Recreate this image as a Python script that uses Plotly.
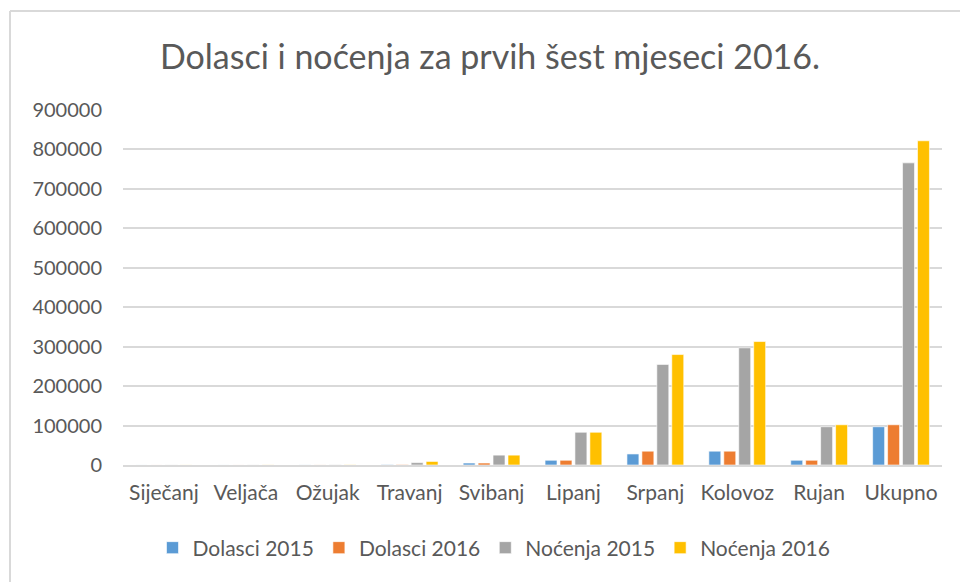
import plotly.graph_objects as go

categories = ["Siječanj", "Veljača", "Ožujak", "Travanj", "Svibanj", "Lipanj",
              "Srpanj", "Kolovoz", "Rujan", "Ukupno"]
dolasci_2015 = [100, 100, 200, 1000, 5000, 12000, 28000, 35000, 12000, 97000]
dolasci_2016 = [100, 100, 200, 1200, 5000, 12000, 35000, 35000, 12000, 102000]
nocenja_2015 = [200, 200, 400, 6000, 25000, 83000, 255000, 297000, 97000, 766000]
nocenja_2016 = [200, 300, 500, 9000, 25000, 83000, 280000, 313000, 102000, 822000]
series_names = ["Dolasci 2015", "Dolasci 2016", "Noćenja 2015", "Noćenja 2016"]
series_colors = ["#5B9BD5", "#ED7D31", "#A5A5A5", "#FFC000"]
y_ticks = [0, 100000, 200000, 300000, 400000, 500000, 600000, 700000, 800000, 900000]

FONT = "Lato"
TXT = "#595959"

fig = go.Figure()
for name, vals, col in zip(series_names,
                           [dolasci_2015, dolasci_2016, nocenja_2015, nocenja_2016],
                           series_colors):
    fig.add_trace(go.Bar(x=categories, y=vals, name=name,
                         marker=dict(color=col, line=dict(color="white", width=0.6))))

W, H = 960, 582
L, R, T, B = 123, 18, 110, 117
pw, ph = W - L - R, H - T - B

def px_x(x):
    return (x - L) / pw

def px_y(y):
    return (H - B - y) / ph

fig.update_layout(
    width=W, height=H,
    margin=dict(l=L, r=R, t=T, b=B),
    paper_bgcolor="white", plot_bgcolor="white",
    barmode="group", bargap=0.27, bargroupgap=0.2,
    font=dict(family=FONT, color=TXT, size=20),
    title=dict(text="Dolasci i noćenja za prvih šest mjeseci 2016.",
               x=490 / W, xanchor="center", y=1 - 57 / H, yanchor="middle",
               yref="container", xref="container",
               font=dict(family=FONT, size=34, color=TXT)),
    xaxis=dict(showgrid=False, showline=True, linecolor="#d9d9d9", linewidth=1.5,
               ticks="", tickfont=dict(size=21, color=TXT), ticklabelstandoff=8),
    yaxis=dict(range=[0, 900000], tickvals=y_ticks, ticktext=[str(v) for v in y_ticks],
               showgrid=True, gridcolor="#d9d9d9", gridwidth=1.5,
               zeroline=False, showline=False, ticks="",
               tickfont=dict(size=20, color=TXT), ticklabelstandoff=20),
    legend=dict(orientation="h", x=494 / W, xref="container", xanchor="center",
                y=1 - 548 / H, yref="container", yanchor="middle",
                font=dict(size=21, color=TXT), itemwidth=30, tracegroupgap=0),
    showlegend=True,
)

fig.add_shape(type="line", xref="paper", yref="paper",
              x0=px_x(10), x1=px_x(970), y0=px_y(11), y1=px_y(11),
              line=dict(color="#d9d9d9", width=2), layer="above")
fig.add_shape(type="line", xref="paper", yref="paper",
              x0=px_x(10), x1=px_x(10), y0=px_y(11), y1=px_y(600),
              line=dict(color="#d9d9d9", width=2), layer="above")

fig.write_html("out.html")
